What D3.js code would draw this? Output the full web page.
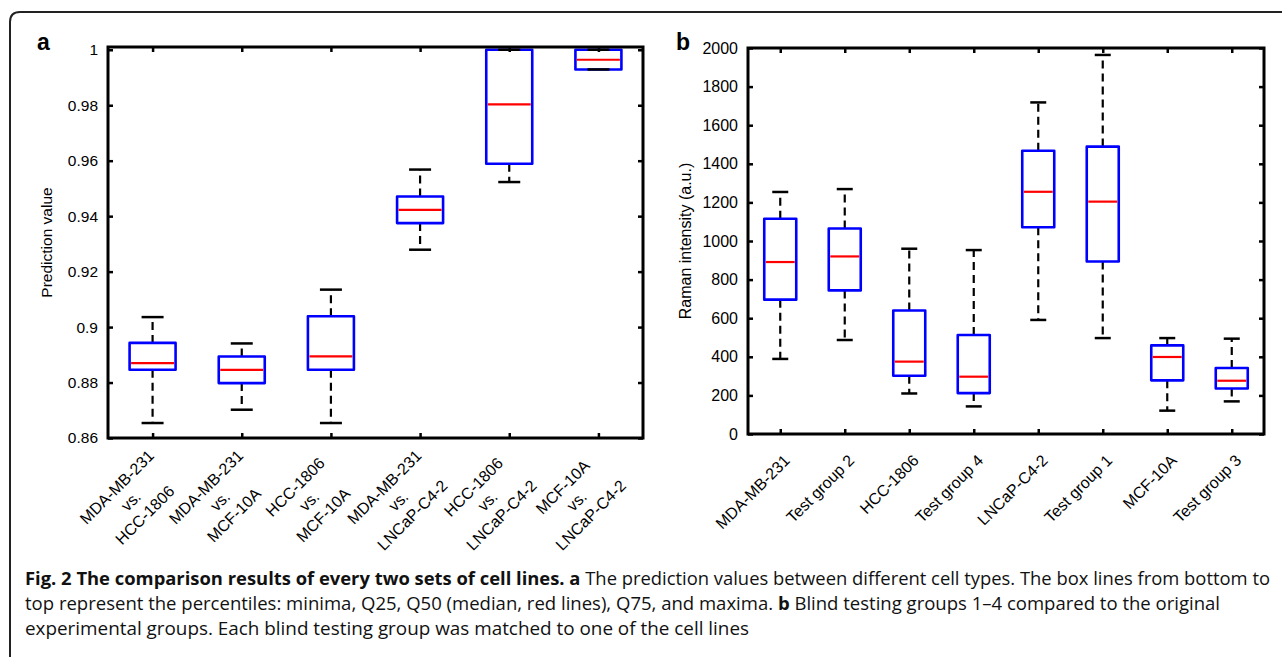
<!DOCTYPE html>
<html>
<head>
<meta charset="utf-8">
<script src="https://cdn.jsdelivr.net/npm/d3@7"></script>
<style>
  body { margin: 0; background: #fff; }
  svg { display: block; }
  .tick text { font-family: "Liberation Sans", Arial, sans-serif; fill: #000; }
  .caption { font-family: "Open Sans", sans-serif; font-size: 18.5px; fill: #111; }
</style>
</head>
<body>
<svg id="fig" width="1282" height="657"></svg>
<script>
// panel a: prediction values for each pair of cell lines
const pairLabels = [
  'MDA-MB-231|vs.|HCC-1806',
  'MDA-MB-231|vs.|MCF-10A',
  'HCC-1806|vs.|MCF-10A',
  'MDA-MB-231|vs.|LNCaP-C4-2',
  'HCC-1806|vs.|LNCaP-C4-2',
  'MCF-10A|vs.|LNCaP-C4-2',
];
const predMin = [0.8654, 0.8702, 0.8654, 0.9279, 0.9523, 0.9929];
const predQ25 = [0.8846, 0.8798, 0.8846, 0.9375, 0.9589, 0.9929];
const predMed = [0.8870, 0.8846, 0.8894, 0.9423, 0.9803, 0.9964];
const predQ75 = [0.8943, 0.8894, 0.9039, 0.9471, 1.0, 1.0];
const predMax = [0.9036, 0.8941, 0.9135, 0.9568, 1.0, 1.0];
const predTicks = [0.86, 0.88, 0.9, 0.92, 0.94, 0.96, 0.98, 1];

// panel b: Raman intensity, cell lines and blind test groups
const ramanGroups = ['MDA-MB-231', 'Test group 2', 'HCC-1806', 'Test group 4',
  'LNCaP-C4-2', 'Test group 1', 'MCF-10A', 'Test group 3'];
const ramanMin = [389, 487, 210, 143, 591, 497, 121, 169];
const ramanQ25 = [696, 744, 302, 212, 1071, 894, 278, 236];
const ramanMed = [891, 920, 375, 297, 1255, 1204, 399, 276];
const ramanQ75 = [1115, 1065, 640, 513, 1468, 1489, 459, 342];
const ramanMax = [1254, 1269, 960, 953, 1718, 1964, 497, 494];
const ramanTicks = d3.range(0, 2001, 200);

const svg = d3.select('#fig');
svg.append('rect').attr('width', 1282).attr('height', 657).attr('fill', '#fff');

// figure frame (rounded top-left corner, cut at right and bottom)
svg.append('path')
  .attr('d', 'M10,670 L10,22 Q10,12 20,12 L1295,12')
  .attr('fill', 'none').attr('stroke', '#222').attr('stroke-width', 2);

const buildStats = (cats, mn, q1, md, q3, mx) =>
  cats.map((c, i) => ({ cat: c, min: mn[i], q1: q1[i], med: md[i], q3: q3[i], max: mx[i] }));

const drawFrameAxes = (g, x, y, yTicks, fontSize, fmt) => {
  const [x0, x1] = x.range();
  const [y0, y1] = y.range();
  const tick = 5;
  const style = (sel) => {
    sel.select('.domain').remove();
    sel.selectAll('.tick line').attr('stroke', '#000').attr('stroke-width', 2.5);
    sel.selectAll('.tick text').attr('font-size', fontSize);
  };
  g.append('g').attr('transform', `translate(${x0},0)`)
    .call(d3.axisLeft(y).tickValues(yTicks).tickSizeInner(-tick).tickSizeOuter(0)
      .tickPadding(10).tickFormat(fmt))
    .call(style);
  g.append('g').attr('transform', `translate(${x1},0)`)
    .call(d3.axisRight(y).tickValues(yTicks).tickSizeInner(-tick).tickSizeOuter(0).tickFormat(''))
    .call(style);
  g.append('g').attr('transform', `translate(0,${y0})`)
    .call(d3.axisBottom(x).tickSizeInner(-tick).tickSizeOuter(0).tickFormat(''))
    .call(style);
  g.append('g').attr('transform', `translate(0,${y1})`)
    .call(d3.axisTop(x).tickSizeInner(-tick).tickSizeOuter(0).tickFormat(''))
    .call(style);
  g.append('rect')
    .attr('x', x0).attr('y', y1).attr('width', x1 - x0).attr('height', y0 - y1)
    .attr('fill', 'none').attr('stroke', '#000').attr('stroke-width', 3);
};

const drawBoxes = (g, stats, x, y, boxW, capW) => {
  const box = g.selectAll('g.box').data(stats).enter().append('g').attr('class', 'box');
  const cx = d => x(d.cat);
  box.append('line')
    .attr('x1', cx).attr('x2', cx).attr('y1', d => y(d.q3)).attr('y2', d => y(d.max))
    .attr('stroke', '#000').attr('stroke-width', 2.2).attr('stroke-dasharray', '8,5');
  box.append('line')
    .attr('x1', cx).attr('x2', cx).attr('y1', d => y(d.q1)).attr('y2', d => y(d.min))
    .attr('stroke', '#000').attr('stroke-width', 2.2).attr('stroke-dasharray', '8,5');
  box.append('rect')
    .attr('x', d => cx(d) - boxW / 2).attr('width', boxW)
    .attr('y', d => y(d.q3)).attr('height', d => y(d.q1) - y(d.q3))
    .attr('fill', 'none').attr('stroke', '#0000ff').attr('stroke-width', 2.6)
    .attr('stroke-linejoin', 'round');
  ['max', 'min'].forEach(k => {
    box.append('line')
      .attr('x1', d => cx(d) - capW / 2).attr('x2', d => cx(d) + capW / 2)
      .attr('y1', d => y(d[k])).attr('y2', d => y(d[k]))
      .attr('stroke', '#000').attr('stroke-width', 2.5);
  });
  box.append('line')
    .attr('x1', d => cx(d) - boxW / 2 + 1.5).attr('x2', d => cx(d) + boxW / 2 - 1.5)
    .attr('y1', d => y(d.med)).attr('y2', d => y(d.med))
    .attr('stroke', '#ff0000').attr('stroke-width', 2.2);
};

// ---- panel a ----
const xA = d3.scalePoint().domain(pairLabels).range([108, 643]).padding(0.5);
const yA = d3.scaleLinear().domain([0.86, 1.001]).range([438, 47]);
const gA = svg.append('g');
drawBoxes(gA, buildStats(pairLabels, predMin, predQ25, predMed, predQ75, predMax), xA, yA, 46, 22);
drawFrameAxes(gA, xA, yA, predTicks, '15.5px', d3.format(''));

pairLabels.forEach(lbl => {
  const t = gA.append('g')
    .attr('transform', `translate(${xA(lbl)},438) rotate(-45)`)
    .append('text')
    .attr('font-family', '"Liberation Sans", Arial, sans-serif')
    .attr('font-size', '16px').attr('text-anchor', 'middle');
  lbl.split('|').forEach((line, i) => {
    t.append('tspan').attr('x', -60).attr('y', 15 + i * 19.8).text(line);
  });
});

gA.append('text')
  .attr('transform', 'translate(52,242.5) rotate(-90)')
  .attr('text-anchor', 'middle')
  .attr('font-family', '"Liberation Sans", Arial, sans-serif').attr('font-size', '15.5px')
  .text('Prediction value');

svg.append('text').attr('x', 37).attr('y', 50)
  .attr('font-family', '"Liberation Sans", Arial, sans-serif')
  .attr('font-size', '23px').attr('font-weight', 'bold').text('a');

// ---- panel b ----
const xB = d3.scalePoint().domain(ramanGroups).range([748, 1264]).padding(0.5);
const yB = d3.scaleLinear().domain([0, 2000]).range([434, 48]);
const gB = svg.append('g');
drawBoxes(gB, buildStats(ramanGroups, ramanMin, ramanQ25, ramanMed, ramanQ75, ramanMax), xB, yB, 32, 16);
drawFrameAxes(gB, xB, yB, ramanTicks, '16px', d3.format('d'));

ramanGroups.forEach(lbl => {
  gB.append('text')
    .attr('transform', `translate(${xB(lbl)},434) rotate(-45)`)
    .attr('x', -12).attr('y', 27)
    .attr('text-anchor', 'end')
    .attr('font-family', '"Liberation Sans", Arial, sans-serif').attr('font-size', '16px')
    .text(lbl);
});

gB.append('text')
  .attr('transform', 'translate(691,241) rotate(-90)')
  .attr('text-anchor', 'middle')
  .attr('font-family', '"Liberation Sans", Arial, sans-serif').attr('font-size', '16px')
  .text('Raman intensity (a.u.)');

svg.append('text').attr('x', 676).attr('y', 50)
  .attr('font-family', '"Liberation Sans", Arial, sans-serif')
  .attr('font-size', '23px').attr('font-weight', 'bold').text('b');

// ---- caption ----
const captionLines = [
  { y: 585, w: 1245, parts: [
    ['Fig. 2 The comparison results of every two sets of cell lines.', true],
    [' ', false], ['a', true],
    [' The prediction values between different cell types. The box lines from bottom to', false]] },
  { y: 610, w: 1195, parts: [
    ['top represent the percentiles: minima, Q25, Q50 (median, red lines), Q75, and maxima. ', false],
    ['b', true], [' Blind testing groups 1\u20134 compared to the original', false]] },
  { y: 635, w: 724, parts: [
    ['experimental groups. Each blind testing group was matched to one of the cell lines', false]] },
];
captionLines.forEach(line => {
  const t = svg.append('text').attr('class', 'caption')
    .attr('x', 25).attr('y', line.y)
    .attr('textLength', line.w).attr('lengthAdjust', 'spacingAndGlyphs')
    .attr('xml:space', 'preserve');
  line.parts.forEach(([s, bold]) => {
    t.append('tspan').attr('font-weight', bold ? 'bold' : null).text(s);
  });
});
</script>
</body>
</html>
